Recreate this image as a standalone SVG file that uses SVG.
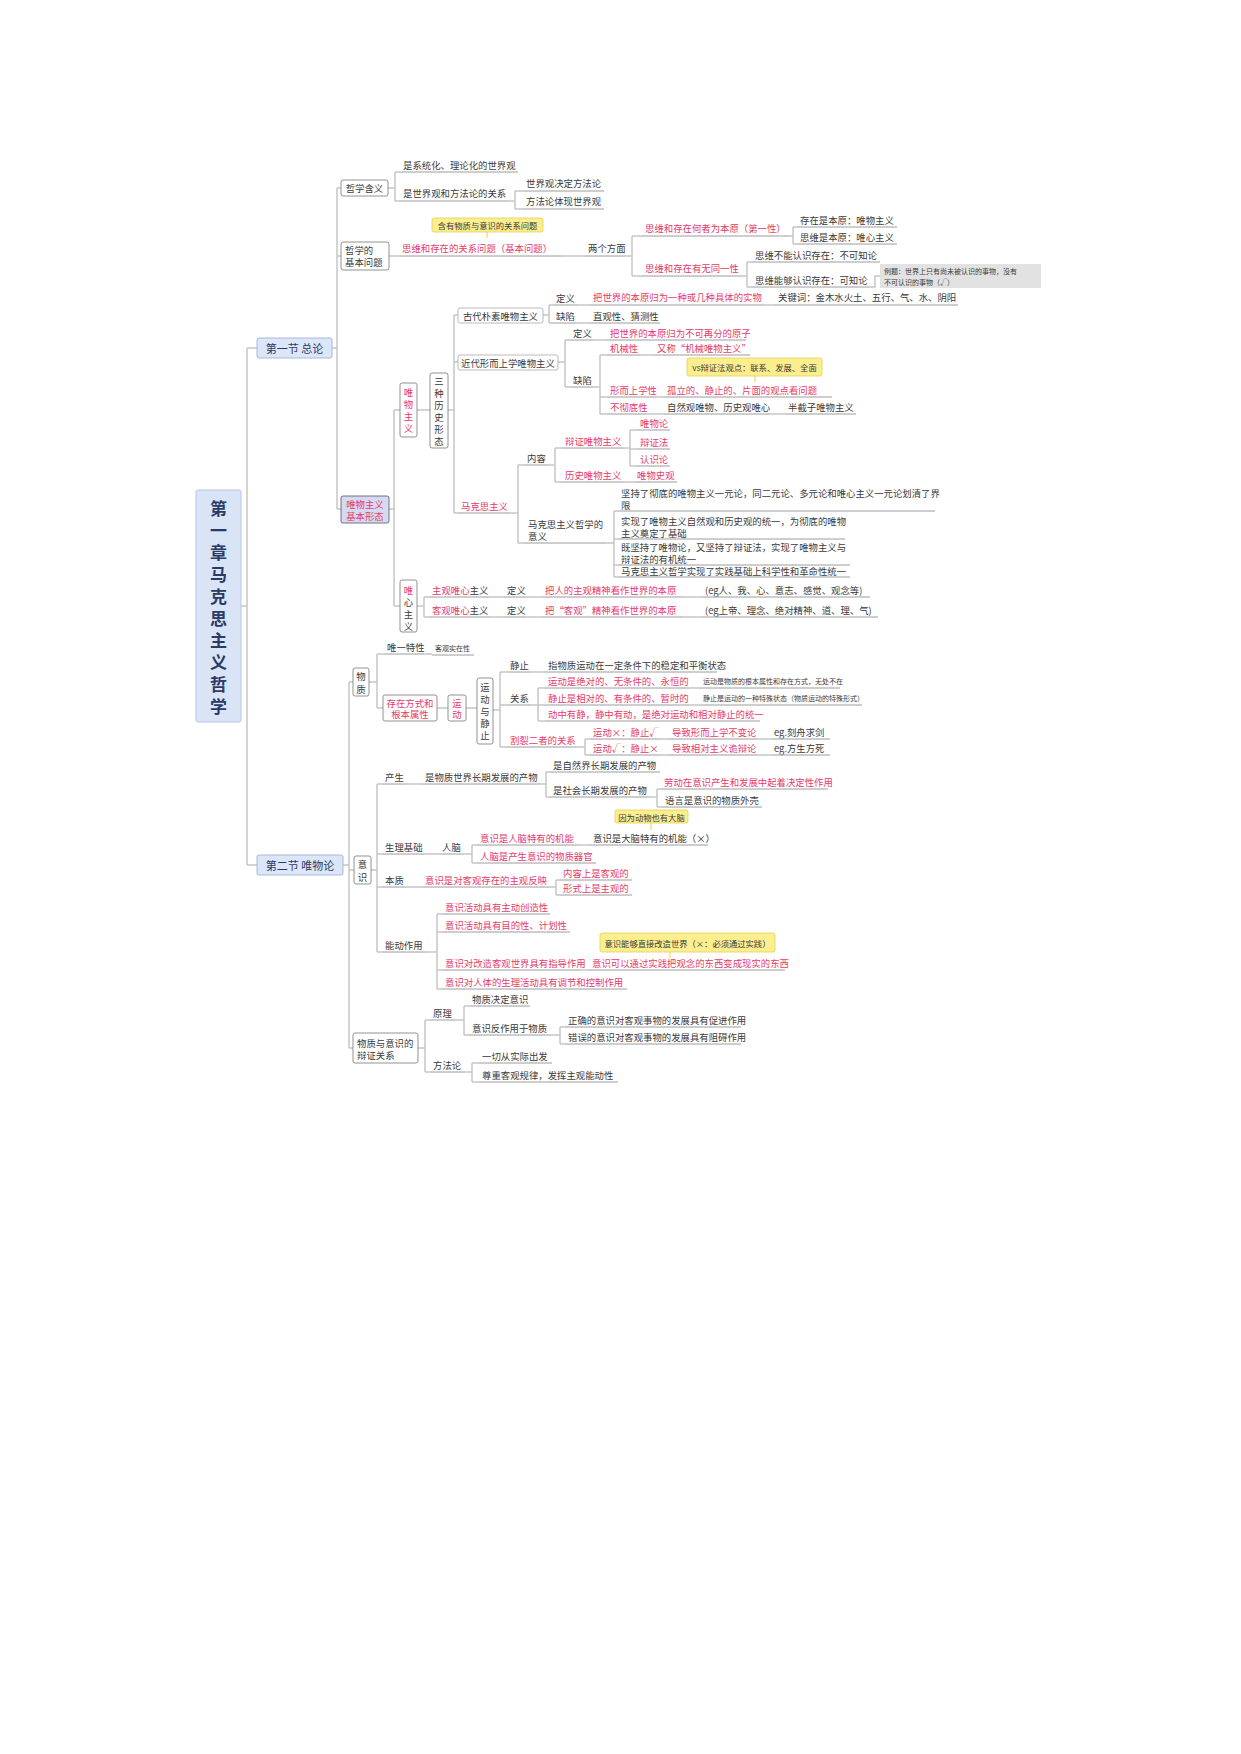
<svg xmlns="http://www.w3.org/2000/svg" width="1241" height="1754" viewBox="0 0 1241 1754">
<style>
text{font-family:"Noto Sans CJK SC","Noto Sans",sans-serif;font-size:9.4px;fill:#3a3a3a;dominant-baseline:central}
.r{fill:#e53a6a}
.s{font-size:7px}
.m{font-size:8.3px}
.u{stroke:#9c9c9c;stroke-width:1;fill:none}
.c{stroke:#c6c6c6;stroke-width:1.5;fill:none}
.box{fill:#fff;stroke:#777;stroke-width:0.8}
.lbox{fill:#fff;stroke:#aaa;stroke-width:0.8}
.y{fill:#fbee8f;stroke:#e6cf55;stroke-width:0.8}
.sec{fill:#dbe7f8;stroke:#a8b8dc;stroke-width:1}
.st{font-size:11px;fill:#2b3a67}
.ti{font-size:17px;font-weight:bold;fill:#2b3a67;text-anchor:middle}
.mid{text-anchor:middle}
</style>
<rect width="1241" height="1754" fill="#fff"/>

<g id="connectors">
<path class="c" d="M241 606H247M247 348V865M247 348H257M247 865H257"/>
<path class="c" d="M332 348H337M337 188V509M337 188H341M337 256H341M337 509H341"/>
<path class="c" d="M388 188H395M395 172V201M395 172H400M395 201H400M508 201H515M515 191V209M515 191H523M515 209H523"/>
<path class="c" d="M389 256H400M562 256H585M625 256H632M632 236V276M632 236H642M632 276H642M790 236H793M793 227V244M793 227H797M793 244H797M742 276H747M747 262V287M747 262H752M747 287H752M870 287H875V276H880"/>
<path class="c" d="M389 509H394M394 410V606M394 410H400M394 606H400M417 410H430M448 410H454M454 315V513M454 315H458M454 362H458M454 513H458"/>
<path class="c" d="M543 315H549M549 305V323M549 305H553M549 323H553M577 305H590M764 305H775M577 323H590"/>
<path class="c" d="M558 362H565M565 340V387M565 340H570M565 387H570M594 340H607M594 387H600M600 355V414M600 355H607M600 397H607M600 414H607M640 355H654M657 397H664M647 414H664M770 414H785"/>
<path class="c" d="M510 513H518M518 465V543M518 465H524M518 543H524M548 465H555M555 448V482M555 448H562M555 482H562M623 448H630M630 430V466M630 430H637M630 449H637M630 466H637M623 482H634M606 543H614M614 511V577M614 511H618M614 539H618M614 565H618M614 577H618"/>
<path class="c" d="M417 606H424M424 597V617M424 597H429M424 617H429M490 597H504M526 597H542M683 597H702M490 617H504M526 617H542M683 617H702"/>
<path class="c" d="M343 865H349M349 682V1048M349 682H353M349 870H354M349 1048H353"/>
<path class="c" d="M369 682H377M377 654V708M377 654H384M377 708H383M424 654H432M437 708H448M466 708H477M493 710H500M500 672V747M500 672H507M500 705H507M500 747H507M531 672H545M531 705H538M538 688V721M538 688H545M538 705H545M538 721H545M689 688H700M689 705H700M576 747H585M585 739V755M585 739H590M585 755H590M660 739H669M660 755H669M757 739H771M757 755H771"/>
<path class="c" d="M371 870H377M377 784V952M377 784H382M377 854H382M377 887H382M377 952H382M406 784H422M540 784H546M546 772V797M546 772H550M546 797H550M650 797H657M657 789V807M657 789H661M657 807H662M424 854H439M463 854H472M472 845V863M472 845H477M472 863H477M578 845H590M406 887H422M550 887H556M556 880V895M556 880H560M556 895H560M426 952H437M437 914V989M437 914H442M437 932H442M437 970H442M437 989H442M580 970H589"/>
<path class="c" d="M418 1048H425M425 1020V1072M425 1020H430M425 1072H430M455 1020H464M464 1006V1035M464 1006H469M464 1035H469M550 1035H560M560 1027V1044M560 1027H565M560 1044H565M463 1072H472M472 1063V1082M472 1063H479M472 1082H479"/>
</g>

<g id="title">
<rect x="196" y="490" width="45" height="232" rx="2" fill="#d9e5f7" stroke="#b7c3e8"/>
<text class="ti" x="218.5" y="507">第</text><text class="ti" x="218.5" y="529">一</text><text class="ti" x="218.5" y="551">章</text><text class="ti" x="218.5" y="573">马</text><text class="ti" x="218.5" y="595">克</text><text class="ti" x="218.5" y="617">思</text><text class="ti" x="218.5" y="639">主</text><text class="ti" x="218.5" y="661">义</text><text class="ti" x="218.5" y="683">哲</text><text class="ti" x="218.5" y="705">学</text>
</g>

<g id="sec1"><rect class="sec" x="257" y="338" width="75" height="20" rx="2"/><text class="st mid" x="294.5" y="348">第一节 总论</text></g>
<g id="sec2"><rect class="sec" x="257" y="855" width="86" height="20" rx="2"/><text class="st mid" x="300" y="865">第二节 唯物论</text></g>

<g id="zxhy"><rect class="box" x="341" y="180" width="47" height="16" rx="2"/><text class="mid" x="364.5" y="188">哲学含义</text></g>
<g id="n_t1"><text x="403" y="165">是系统化、理论化的世界观</text><path class="u" d="M400 172H518"/></g>
<g id="n_t2"><text x="403" y="193">是世界观和方法论的关系</text><path class="u" d="M400 201H508"/></g>
<g id="n_t3"><text x="526" y="183">世界观决定方法论</text><path class="u" d="M523 191H604"/></g>
<g id="n_t4"><text x="526" y="201">方法论体现世界观</text><path class="u" d="M523 209H604"/></g>

<g id="jbwt"><rect class="box" x="341" y="242" width="48" height="28" rx="2"/><text x="345" y="250">哲学的</text><text x="345" y="262">基本问题</text></g>
<g id="call1"><rect class="y" x="432" y="218" width="111" height="14" rx="2"/><text class="m mid" x="487.5" y="225">含有物质与意识的关系问题</text><path d="M487 232V238" stroke="#e6cf55"/></g>
<g id="n_t5"><text class="r" x="402" y="248">思维和存在的关系问题（基本问题）</text><path class="u" d="M400 256H562"/></g>
<g id="n_t6"><text x="588" y="248">两个方面</text><path class="u" d="M585 256H625"/></g>
<g id="n_t7"><text class="r" x="645" y="228">思维和存在何者为本原（第一性）</text><path class="u" d="M642 236H790"/></g>
<g id="n_t8"><text x="800" y="220">存在是本原：唯物主义</text><path class="u" d="M797 227H897"/></g>
<g id="n_t9"><text x="800" y="237">思维是本原：唯心主义</text><path class="u" d="M797 244H897"/></g>
<g id="n_t10"><text class="r" x="645" y="268">思维和存在有无同一性</text><path class="u" d="M642 276H742"/></g>
<g id="n_t11"><text x="755" y="255">思维不能认识存在：不可知论</text><path class="u" d="M752 262H880"/></g>
<g id="n_t12"><text x="755" y="280">思维能够认识存在：可知论</text><path class="u" d="M752 287H870"/></g>
<g id="n_ex"><rect x="880" y="264" width="161" height="24" fill="#e2e2e2"/><text class="s" x="884" y="271">例题：世界上只有尚未被认识的事物，没有</text><text class="s" x="884" y="282">不可认识的事物（√）</text></g>

<g id="jbxt"><rect x="341" y="496" width="48" height="27" rx="2" fill="#d5d9f3" stroke="#555" stroke-width="0.8"/><text class="r mid" x="365" y="503.5">唯物主义</text><text class="r mid" x="365" y="515.5">基本形态</text></g>
<g id="wwzy"><rect class="box" x="400" y="383" width="17" height="54" rx="2"/><text class="r mid" x="408.5" y="392">唯</text><text class="r mid" x="408.5" y="404">物</text><text class="r mid" x="408.5" y="416">主</text><text class="r mid" x="408.5" y="428">义</text></g>
<g id="szls"><rect class="box" x="430" y="373" width="18" height="75" rx="2"/><text class="mid" x="439" y="381">三</text><text class="mid" x="439" y="393">种</text><text class="mid" x="439" y="405">历</text><text class="mid" x="439" y="417">史</text><text class="mid" x="439" y="429">形</text><text class="mid" x="439" y="441">态</text></g>

<g id="gd"><rect class="lbox" x="458" y="308" width="85" height="15" rx="2"/><text class="mid" x="500.5" y="315.5">古代朴素唯物主义</text></g>
<g id="gd1"><text x="556" y="298">定义</text><path class="u" d="M553 305H577"/></g>
<g id="gd2"><text class="r" x="593" y="297">把世界的本原归为一种或几种具体的实物</text><path class="u" d="M590 305H764"/></g>
<g id="gd3"><text x="778" y="297">关键词：金木水火土、五行、气、水、阴阳</text><path class="u" d="M775 305H958"/></g>
<g id="gd4"><text x="556" y="316">缺陷</text><path class="u" d="M553 323H577"/></g>
<g id="gd5"><text x="593" y="316">直观性、猜测性</text><path class="u" d="M590 323H660"/></g>

<g id="jd"><rect class="lbox" x="458" y="355" width="100" height="15" rx="2"/><text class="mid" x="508" y="362.5">近代形而上学唯物主义</text></g>
<g id="jd1"><text x="573" y="333">定义</text><path class="u" d="M570 340H594"/></g>
<g id="jd2"><text class="r" x="610" y="333">把世界的本原归为不可再分的原子</text><path class="u" d="M607 340H746"/></g>
<g id="jd3"><text x="573" y="380">缺陷</text><path class="u" d="M570 387H594"/></g>
<g id="jd4"><text class="r" x="610" y="348">机械性</text><path class="u" d="M607 355H640"/></g>
<g id="jd5"><text class="r" x="657" y="348">又称“机械唯物主义”</text><path class="u" d="M654 355H750"/></g>
<g id="call2"><rect class="y" x="687" y="358" width="135" height="18" rx="2"/><text class="m mid" x="754.5" y="367">vs辩证法观点：联系、发展、全面</text><path d="M755 376V382" stroke="#e6cf55"/></g>
<g id="jd6"><text class="r" x="610" y="390">形而上学性</text><path class="u" d="M607 397H657"/></g>
<g id="jd7"><text class="r" x="667" y="390">孤立的、静止的、片面的观点看问题</text><path class="u" d="M664 397H832"/></g>
<g id="jd8"><text class="r" x="610" y="407">不彻底性</text><path class="u" d="M607 414H647"/></g>
<g id="jd9"><text x="667" y="407">自然观唯物、历史观唯心</text><path class="u" d="M664 414H770"/></g>
<g id="jd10"><text x="788" y="407">半截子唯物主义</text><path class="u" d="M785 414H856"/></g>

<g id="mks"><text class="r" x="461" y="506">马克思主义</text><path class="u" d="M458 513H510"/></g>
<g id="mk1"><text x="527" y="458">内容</text><path class="u" d="M524 465H548"/></g>
<g id="mk2"><text class="r" x="565" y="441">辩证唯物主义</text><path class="u" d="M562 448H623"/></g>
<g id="mk3"><text class="r" x="565" y="475">历史唯物主义</text><path class="u" d="M562 482H623"/></g>
<g id="mk4"><text class="r" x="640" y="423">唯物论</text><path class="u" d="M637 430H670"/></g>
<g id="mk5"><text class="r" x="640" y="442">辩证法</text><path class="u" d="M637 449H670"/></g>
<g id="mk6"><text class="r" x="640" y="459">认识论</text><path class="u" d="M637 466H670"/></g>
<g id="mk7"><text class="r" x="637" y="475">唯物史观</text><path class="u" d="M634 482H677"/></g>
<g id="mk8"><text x="528" y="524">马克思主义哲学的</text><text x="528" y="536">意义</text><path class="u" d="M524 543H606"/></g>
<g id="mk9"><text x="621" y="493">坚持了彻底的唯物主义一元论，同二元论、多元论和唯心主义一元论划清了界</text><text x="621" y="505">限</text><path class="u" d="M618 511H935"/></g>
<g id="mk10"><text x="621" y="521">实现了唯物主义自然观和历史观的统一，为彻底的唯物</text><text x="621" y="533">主义奠定了基础</text><path class="u" d="M618 539H845"/></g>
<g id="mk11"><text x="621" y="547">既坚持了唯物论，又坚持了辩证法，实现了唯物主义与</text><text x="621" y="559">辩证法的有机统一</text><path class="u" d="M618 565H850"/></g>
<g id="mk12"><text x="621" y="571">马克思主义哲学实现了实践基础上科学性和革命性统一</text><path class="u" d="M618 577H850"/></g>

<g id="wxzy"><rect class="box" x="400" y="580" width="17" height="52" rx="2"/><text class="r mid" x="408.5" y="590">唯</text><text class="mid" x="408.5" y="602">心</text><text class="mid" x="408.5" y="614">主</text><text class="mid" x="408.5" y="626">义</text></g>
<g id="zg"><text x="432" y="590"><tspan class="r">主观唯心</tspan>主义</text><path class="u" d="M429 597H490"/></g>
<g id="zg1"><text x="507" y="590">定义</text><path class="u" d="M504 597H526"/></g>
<g id="zg2"><text class="r" x="545" y="590">把人的主观精神看作世界的本原</text><path class="u" d="M542 597H683"/></g>
<g id="zg3"><text x="705" y="590">(eg人、我、心、意志、感觉、观念等)</text><path class="u" d="M702 597H870"/></g>
<g id="kg"><text x="432" y="610"><tspan class="r">客观唯心</tspan>主义</text><path class="u" d="M429 617H490"/></g>
<g id="kg1"><text x="507" y="610">定义</text><path class="u" d="M504 617H526"/></g>
<g id="kg2"><text class="r" x="545" y="610">把“客观”精神看作世界的本原</text><path class="u" d="M542 617H683"/></g>
<g id="kg3"><text x="705" y="610">(eg上帝、理念、绝对精神、道、理、气)</text><path class="u" d="M702 617H878"/></g>

<g id="wz"><rect class="box" x="353" y="668" width="16" height="28" rx="2"/><text class="mid" x="361" y="676">物</text><text class="mid" x="361" y="689">质</text></g>
<g id="wz1"><text x="387" y="647">唯一特性</text><path class="u" d="M384 654H424"/></g>
<g id="wz2"><text class="s" x="435" y="648">客观实在性</text><path class="u" d="M432 655H474"/></g>
<g id="wz3"><rect class="box" x="383" y="695" width="54" height="26" rx="2"/><text class="r mid" x="410" y="703">存在方式和</text><text class="r mid" x="410" y="714">根本属性</text></g>
<g id="wz4"><rect class="box" x="448" y="695" width="18" height="26" rx="2"/><text class="r mid" x="457" y="703">运</text><text class="r mid" x="457" y="714">动</text></g>
<g id="wz5"><rect class="box" x="477" y="678" width="16" height="66" rx="2"/><text class="mid" x="485" y="687">运</text><text class="mid" x="485" y="699">动</text><text class="mid" x="485" y="711">与</text><text class="mid" x="485" y="723">静</text><text class="mid" x="485" y="735">止</text></g>
<g id="wz6"><text x="510" y="665">静止</text><path class="u" d="M507 672H531"/></g>
<g id="wz7"><text x="548" y="665">指物质运动在一定条件下的稳定和平衡状态</text><path class="u" d="M545 672H717"/></g>
<g id="wz8"><text x="510" y="698">关系</text><path class="u" d="M507 705H531"/></g>
<g id="wz9"><text class="r" x="548" y="681">运动是绝对的、无条件的、永恒的</text><path class="u" d="M545 688H689"/></g>
<g id="wz10"><text class="s" x="703" y="681">运动是物质的根本属性和存在方式，无处不在</text><path class="u" d="M700 688H840"/></g>
<g id="wz11"><text class="r" x="548" y="698">静止是相对的、有条件的、暂时的</text><path class="u" d="M545 705H689"/></g>
<g id="wz12"><text class="s" x="703" y="698">静止是运动的一种特殊状态（物质运动的特殊形式）</text><path class="u" d="M700 705H862"/></g>
<g id="wz13"><text class="r" x="548" y="714">动中有静，静中有动，是绝对运动和相对静止的统一</text><path class="u" d="M545 721H760"/></g>
<g id="wz14"><text class="r" x="510" y="740">割裂二者的关系</text><path class="u" d="M507 747H576"/></g>
<g id="wz15"><text class="r" x="593" y="732">运动×：静止√</text><path class="u" d="M590 739H660"/></g>
<g id="wz16"><text class="r" x="672" y="732">导致形而上学不变论</text><path class="u" d="M669 739H757"/></g>
<g id="wz17"><text x="774" y="732">eg.刻舟求剑</text><path class="u" d="M771 739H830"/></g>
<g id="wz18"><text class="r" x="593" y="748">运动√：静止×</text><path class="u" d="M590 755H660"/></g>
<g id="wz19"><text class="r" x="672" y="748">导致相对主义诡辩论</text><path class="u" d="M669 755H757"/></g>
<g id="wz20"><text x="774" y="748">eg.方生方死</text><path class="u" d="M771 755H830"/></g>

<g id="ys"><rect class="box" x="354" y="856" width="17" height="28" rx="2"/><text class="mid" x="362.5" y="864">意</text><text class="mid" x="362.5" y="877">识</text></g>
<g id="ys1"><text x="385" y="777">产生</text><path class="u" d="M382 784H406"/></g>
<g id="ys2"><text x="425" y="777">是物质世界长期发展的产物</text><path class="u" d="M422 784H540"/></g>
<g id="ys3"><text x="553" y="765">是自然界长期发展的产物</text><path class="u" d="M550 772H660"/></g>
<g id="ys4"><text x="553" y="790">是社会长期发展的产物</text><path class="u" d="M550 797H650"/></g>
<g id="ys5"><text class="r" x="664" y="782">劳动在意识产生和发展中起着决定性作用</text><path class="u" d="M661 789H828"/></g>
<g id="ys6"><text x="665" y="800">语言是意识的物质外壳</text><path class="u" d="M662 807H762"/></g>
<g id="call3"><rect class="y" x="615" y="810" width="73" height="13" rx="2"/><text class="m mid" x="651.5" y="816.5">因为动物也有大脑</text><path d="M651 823V830" stroke="#e6cf55"/></g>
<g id="ys7"><text x="385" y="847">生理基础</text><path class="u" d="M382 854H424"/></g>
<g id="ys8"><text x="442" y="847">人脑</text><path class="u" d="M439 854H463"/></g>
<g id="ys9"><text class="r" x="480" y="838">意识是人脑特有的机能</text><path class="u" d="M477 845H578"/></g>
<g id="ys10"><text x="593" y="838">意识是大脑特有的机能（×）</text><path class="u" d="M590 845H708"/></g>
<g id="ys11"><text class="r" x="480" y="856">人脑是产生意识的物质器官</text><path class="u" d="M477 863H596"/></g>
<g id="ys12"><text x="385" y="880">本质</text><path class="u" d="M382 887H406"/></g>
<g id="ys13"><text class="r" x="425" y="880">意识是对客观存在的主观反映</text><path class="u" d="M422 887H550"/></g>
<g id="ys14"><text class="r" x="563" y="873">内容上是客观的</text><path class="u" d="M560 880H632"/></g>
<g id="ys15"><text class="r" x="563" y="888">形式上是主观的</text><path class="u" d="M560 895H632"/></g>
<g id="ys16"><text x="385" y="945">能动作用</text><path class="u" d="M382 952H426"/></g>
<g id="ys17"><text class="r" x="445" y="907">意识活动具有主动创造性</text><path class="u" d="M442 914H550"/></g>
<g id="ys18"><text class="r" x="445" y="925">意识活动具有目的性、计划性</text><path class="u" d="M442 932H570"/></g>
<g id="call4"><rect class="y" x="600" y="933" width="175" height="19" rx="2"/><text class="m mid" x="687.5" y="942.5">意识能够直接改造世界（×：必须通过实践）</text><path d="M670 952V958" stroke="#e6cf55"/></g>
<g id="ys19"><text class="r" x="445" y="963">意识对改造客观世界具有指导作用</text><path class="u" d="M442 970H580"/></g>
<g id="ys20"><text class="r" x="592" y="963">意识可以通过实践把观念的东西变成现实的东西</text><path class="u" d="M589 970H785"/></g>
<g id="ys21"><text class="r" x="445" y="982">意识对人体的生理活动具有调节和控制作用</text><path class="u" d="M442 989H627"/></g>

<g id="bz"><rect class="box" x="353" y="1033" width="65" height="30" rx="2"/><text x="357" y="1043">物质与意识的</text><text x="357" y="1055">辩证关系</text></g>
<g id="bz1"><text x="433" y="1013">原理</text><path class="u" d="M430 1020H455"/></g>
<g id="bz2"><text x="472" y="999">物质决定意识</text><path class="u" d="M469 1006H530"/></g>
<g id="bz3"><text x="472" y="1028">意识反作用于物质</text><path class="u" d="M469 1035H550"/></g>
<g id="bz4"><text x="568" y="1020">正确的意识对客观事物的发展具有促进作用</text><path class="u" d="M565 1027H741"/></g>
<g id="bz5"><text x="568" y="1037">错误的意识对客观事物的发展具有阻碍作用</text><path class="u" d="M565 1044H741"/></g>
<g id="bz6"><text x="433" y="1065">方法论</text><path class="u" d="M430 1072H463"/></g>
<g id="bz7"><text x="482" y="1056">一切从实际出发</text><path class="u" d="M479 1063H552"/></g>
<g id="bz8"><text x="482" y="1075">尊重客观规律，发挥主观能动性</text><path class="u" d="M479 1082H618"/></g>
</svg>
